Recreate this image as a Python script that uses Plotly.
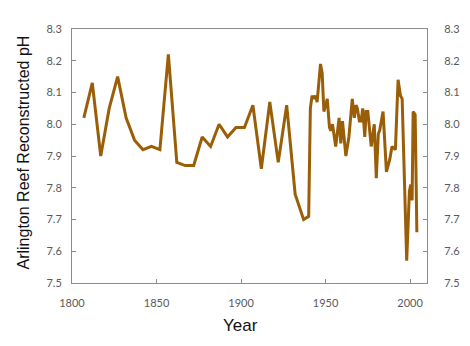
import plotly.graph_objects as go

years = [1807, 1812, 1817, 1822, 1827, 1832, 1837, 1842, 1847, 1852, 1857, 1862, 1867, 1872,
         1877, 1882, 1887, 1892, 1897, 1902, 1907, 1912, 1917, 1922, 1927, 1932, 1937, 1940,
         1941, 1942, 1943, 1944, 1945, 1947, 1948, 1949, 1951, 1952.3, 1953.1, 1954.1, 1956,
         1958, 1959, 1960, 1962, 1963.8, 1965.8, 1967, 1968, 1968.8, 1970, 1971, 1972, 1973.2,
         1974, 1975, 1977, 1978.8, 1980, 1981.2, 1982, 1984, 1986, 1988, 1989.3, 1991.3,
         1992.9, 1994.3, 1995.3, 1998, 1999.6, 2000.4, 2001.2, 2001.8, 2003, 2004]
ph = [8.02, 8.13, 7.90, 8.05, 8.15, 8.02, 7.95, 7.92, 7.93, 7.92, 8.22, 7.88, 7.87, 7.87,
      7.96, 7.93, 8.00, 7.96, 7.99, 7.99, 8.06, 7.86, 8.07, 7.88, 8.06, 7.78, 7.70, 7.71,
      8.05, 8.09, 8.08, 8.09, 8.07, 8.19, 8.16, 8.04, 8.08, 7.99, 7.98, 8.00, 7.93,
      8.02, 7.94, 8.01, 7.90, 7.96, 8.08, 8.02, 8.06, 8.05, 8.01, 8.01, 8.05, 7.96,
      8.04, 8.04, 7.93, 8.00, 7.83, 7.97, 7.98, 8.04, 7.85, 7.89, 7.93, 7.92,
      8.14, 8.09, 8.08, 7.57, 7.79, 7.81, 7.76, 8.04, 8.03, 7.66]

x_ticks = [1800, 1850, 1900, 1950, 2000]
y_ticks = [7.5, 7.6, 7.7, 7.8, 7.9, 8.0, 8.1, 8.2, 8.3]
y_labels = ["7.5", "7.6", "7.7", "7.8", "7.9", "8.0", "8.1", "8.2", "8.3"]
x_title = "Year"
y_title = "Arlington Reef Reconstructed pH"

W, H = 470, 346
L, R, T, B = 72, 43, 29, 63
pw, ph_ = W - L - R, H - T - B

fig = go.Figure()
# invisible copy on the right-hand axis so that axis is rendered
fig.add_trace(go.Scatter(x=years, y=ph, mode="lines", yaxis="y2",
                         line=dict(color="rgba(0,0,0,0)", width=0),
                         hoverinfo="skip", showlegend=False))
fig.add_trace(go.Scatter(x=years, y=ph, mode="lines",
                         line=dict(color="#9A5E08", width=3), showlegend=False))

tickfont = dict(family="Lato, Liberation Sans, sans-serif", size=11, color="#595959")
titlefont = dict(family="Liberation Sans, Arial", size=16, color="#111")
axcol = "#8c8c8c"

fig.update_layout(
    width=W, height=H,
    margin=dict(l=L, r=R, t=T, b=B),
    paper_bgcolor="white", plot_bgcolor="white",
    xaxis=dict(range=[1800, 2010], tickvals=x_ticks, ticks="inside", ticklen=4,
               tickcolor=axcol, showline=True, linecolor=axcol, linewidth=1, mirror=True,
               showgrid=False, zeroline=False, tickfont=tickfont, ticklabelstandoff=10,
               automargin=False),
    yaxis=dict(range=[7.5, 8.3], tickvals=y_ticks, ticktext=y_labels, ticks="inside", ticklen=4,
               tickcolor=axcol, showline=True, linecolor=axcol, linewidth=1, mirror="ticks",
               showgrid=False, zeroline=False, tickfont=tickfont, ticklabelstandoff=7,
               automargin=False),
    yaxis2=dict(range=[7.5, 8.3], tickvals=y_ticks, ticktext=y_labels, ticks="outside", ticklen=14,
                tickcolor="rgba(0,0,0,0)", showline=False,
                overlaying="y", side="right", anchor="x",
                automargin=False,
                showgrid=False, zeroline=False, tickfont=tickfont),
    annotations=[
        dict(text=x_title, xref="paper", yref="paper", x=(240 - L) / pw, y=-(325 - T - ph_) / ph_,
             xanchor="center", yanchor="middle", showarrow=False, font=dict(titlefont, size=17)),
        dict(text=y_title, xref="paper", yref="paper", x=-(L - 22.5) / pw, y=(H - B - 153) / ph_,
             xanchor="center", yanchor="middle", textangle=-90, showarrow=False, font=titlefont),
    ],
)

fig.write_html("out.html", post_script="document.body.style.margin='0';",
               config={"displayModeBar": False})
